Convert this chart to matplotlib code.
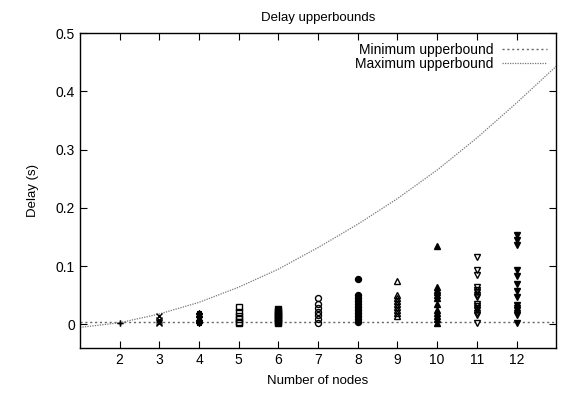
import matplotlib
matplotlib.use("Agg")
import matplotlib.pyplot as plt
from matplotlib.lines import Line2D

plt.rcParams['font.family'] = ['Liberation Sans', 'DejaVu Sans']

# Data
nodes = [2, 3, 4, 5, 6, 7, 8, 9, 10, 11, 12]
delays = {
    2: [0.003, 0.003],
    3: [0.002, 0.005, 0.008, 0.015],
    4: [0.002, 0.004, 0.006, 0.008, 0.012, 0.015, 0.018, 0.020],
    5: [0.002, 0.005, 0.010, 0.015, 0.022, 0.030],
    6: [0.002, 0.005, 0.008, 0.011, 0.014, 0.017, 0.020, 0.023, 0.026],
    7: [0.002, 0.009, 0.016, 0.022, 0.029, 0.036, 0.045],
    8: [0.005, 0.010, 0.015, 0.020, 0.025, 0.030, 0.035, 0.040, 0.045, 0.050, 0.078],
    9: [0.015, 0.020, 0.025, 0.030, 0.035, 0.040, 0.045, 0.050, 0.075],
    10: [0.003, 0.010, 0.015, 0.020, 0.025, 0.035, 0.045, 0.050, 0.055, 0.060, 0.065, 0.134],
    11: [0.003, 0.016, 0.020, 0.024, 0.028, 0.032, 0.036, 0.047, 0.050, 0.055, 0.060,
         0.064, 0.085, 0.093, 0.115],
    12: [0.003, 0.016, 0.020, 0.024, 0.028, 0.034, 0.048, 0.057, 0.069, 0.083, 0.093,
         0.137, 0.145, 0.153],
}
markers = {2: '+', 3: 'x', 4: (8, 2, 0), 5: 's', 6: 's', 7: 'o', 8: 'o',
           9: '^', 10: '^', 11: 'v', 12: 'v'}
filled = {2: True, 3: True, 4: True, 5: False, 6: True, 7: False, 8: True,
          9: False, 10: True, 11: False, 12: True}

min_bound = 0.004
curve_x = [1, 2, 3, 4, 5, 6, 7, 8, 9, 10, 11, 12, 13]
curve_y = [-0.005, 0.003, 0.018, 0.038, 0.064, 0.095, 0.132, 0.172, 0.216,
           0.265, 0.320, 0.380, 0.443]

fig = plt.figure(figsize=(5.67, 3.93), dpi=100)
ax = fig.add_axes([0.141, 0.115, 0.840, 0.801])

for n in nodes:
    ys = delays[n]
    ax.plot([n] * len(ys), ys, linestyle='none', marker=markers[n],
            markersize=4.3, color='black',
            markerfacecolor='black' if filled[n] else 'none',
            markeredgewidth=1.0, zorder=3)

ax.axhline(min_bound, color='#666666', linestyle=(0, (1.5, 2)), linewidth=1.0, zorder=2)
ax.plot(curve_x, curve_y, color='#777777', linestyle=(0, (1, 1)), linewidth=0.9, zorder=2)

ax.set_xlim(1, 13)
ax.set_ylim(-0.04, 0.5)
ax.set_xticks(nodes)
ax.set_yticks([0, 0.1, 0.2, 0.3, 0.4, 0.5])
ax.set_yticklabels(['0', '0.1', '0.2', '0.3', '0.4', '0.5'])
ax.tick_params(direction='in', top=True, right=True, labelsize=10, length=5, width=0.8)
for s in ax.spines.values():
    s.set_linewidth(1.0)

ax.set_title('Delay upperbounds', fontsize=9.5, pad=9)
ax.set_xlabel('Number of nodes', fontsize=9.5, labelpad=6)
ax.set_ylabel('Delay (s)', fontsize=9.5, labelpad=12)

handles = [Line2D([], [], color='#666666', linestyle=(0, (1.5, 2)), linewidth=1.0),
           Line2D([], [], color='#777777', linestyle=(0, (1, 1)), linewidth=0.9)]
ax.legend(handles, ['Minimum upperbound', 'Maximum upperbound'], loc='upper right',
          frameon=False, markerfirst=False, fontsize=10, handlelength=3.2,
          labelspacing=0.0, borderaxespad=0.3, handletextpad=0.6)

fig.savefig('out.png', dpi=100)
